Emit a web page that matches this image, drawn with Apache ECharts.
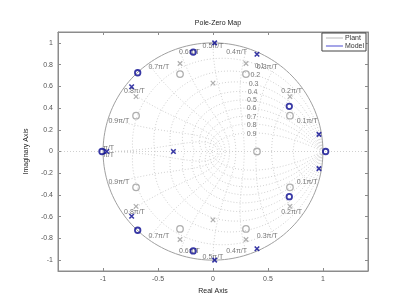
<!DOCTYPE html>
<html><head><meta charset="utf-8">
<script src="https://cdn.jsdelivr.net/npm/echarts@6/dist/echarts.min.js"></script>
<style>html,body{margin:0;padding:0;background:#fff}#c{width:407px;height:306px}</style>
</head><body><div id="c"></div>
<script>
// ---- data ----
const xTicks = [-1, -0.5, 0, 0.5, 1];
const yTicks = [-1, -0.8, -0.6, -0.4, -0.2, 0, 0.2, 0.4, 0.6, 0.8, 1];
const plantPolesRe = [-0.30, 0.30, 0.00, -0.70, 0.70, -0.30, 0.30, 0.00, -0.70, 0.70];
const plantPolesIm = [0.81, 0.81, 0.63, 0.505, 0.505, -0.81, -0.81, -0.63, -0.505, -0.505];
const plantZerosRe = [-0.30, 0.30, -0.70, 0.70, 0.40, -0.30, 0.30, -0.70, 0.70];
const plantZerosIm = [0.713, 0.713, 0.33, 0.33, 0.0, -0.713, -0.713, -0.33, -0.33];
const modelPolesRe = [0.015, 0.40, -0.74, 0.964, -0.36, -0.966, 0.015, 0.40, -0.74, 0.964];
const modelPolesIm = [1.0, 0.895, 0.596, 0.158, 0.0, 0.0, -1.0, -0.895, -0.596, -0.158];
const modelZerosRe = [-0.18, -0.685, 0.694, 1.025, -1.01, -0.18, -0.685, 0.694];
const modelZerosIm = [0.915, 0.725, 0.416, 0.0, 0.0, -0.915, -0.725, -0.416];
const zetas = [0.1, 0.2, 0.3, 0.4, 0.5, 0.6, 0.7, 0.8, 0.9];
const zetaLabelRe = [0.38, 0.34, 0.325, 0.315, 0.31, 0.307, 0.307, 0.307, 0.307];
const zetaLabelIm = [0.79, 0.707, 0.623, 0.55, 0.473, 0.397, 0.32, 0.244, 0.165];
const wnFracs = [0.1, 0.2, 0.3, 0.4, 0.5, 0.6, 0.7, 0.8, 0.9, 1.0];
const wnLabels = ['0.1π/T','0.2π/T','0.3π/T','0.4π/T','0.5π/T','0.6π/T','0.7π/T','0.8π/T','0.9π/T','π/T'];

const GRIDC = '#c4c4c4', AX = '#8c8c8c', TXT = '#555', BLUE = '#06068f', GRAY = '#9a9a9a';
const FONT = 'Liberation Sans';
const N = 120;
const series = [];
function dotted(data){ series.push({type:'line', data, showSymbol:false, symbol:'none', silent:true, animation:false,
  lineStyle:{color:GRIDC, width:0.8, type:[1,2]}, z:1}); }
// damping ratio curves
zetas.forEach(z => {
  const up = [], dn = [];
  for (let i = 0; i <= N; i++) {
    const th = Math.PI * i / N, r = Math.exp(-z * th / Math.sqrt(1 - z * z));
    up.push([r * Math.cos(th), r * Math.sin(th)]);
    dn.push([r * Math.cos(th), -r * Math.sin(th)]);
  }
  dotted(up); dotted(dn);
});
// natural frequency curves
wnFracs.forEach(f => {
  const wn = f * Math.PI, up = [], dn = [];
  for (let i = 0; i <= N; i++) {
    const z = i / N, re = Math.exp(-z * wn), ang = wn * Math.sqrt(1 - z * z);
    up.push([re * Math.cos(ang), re * Math.sin(ang)]);
    dn.push([re * Math.cos(ang), -re * Math.sin(ang)]);
  }
  dotted(up); dotted(dn);
});
// real axis dotted line
series.push({type:'line', data:[], silent:true, animation:false,
  markLine:{silent:true, symbol:'none', label:{show:false}, lineStyle:{color:GRIDC, width:0.8, type:[1,2]},
    data:[{yAxis:0}]}});
// unit circle
const circ = [];
for (let i = 0; i <= 360; i++) { const t = 2 * Math.PI * i / 360; circ.push([Math.cos(t), Math.sin(t)]); }
series.push({type:'line', data:circ, showSymbol:false, symbol:'none', silent:true, animation:false,
  lineStyle:{color:'#a0a0a0', width:1}, z:2});
// labels
const lab = [];
wnFracs.forEach((f, k) => {
  const t = f * Math.PI, x = Math.cos(t), y = Math.sin(t);
  const align = f < 0.5 ? 'right' : (f > 0.5 ? 'left' : 'center');
  lab.push({value:[x, y], name:wnLabels[k], label:{align, verticalAlign: f === 1 ? 'bottom' : 'top'}});
  lab.push({value:[x, -y], name:wnLabels[k], label:{align, verticalAlign: f === 1 ? 'top' : 'bottom'}});
});
zetas.forEach((z, k) => lab.push({value:[zetaLabelRe[k], zetaLabelIm[k]], name:String(z),
  label:{align:'left', verticalAlign:'middle'}}));
series.push({type:'scatter', data:lab, symbolSize:0, silent:true, animation:false, z:3,
  label:{show:true, position:'inside', formatter:p => p.name, fontFamily:FONT, fontSize:7, color:TXT}});
// markers
const XPATH = 'path://M0,0L10,10M10,0L0,10';
const pts = (re, im) => re.map((v, i) => [v, im[i]]);
series.push({type:'scatter', name:'pz', data:pts(plantZerosRe, plantZerosIm), symbol:'circle', symbolSize:6.5,
  itemStyle:{color:'rgba(0,0,0,0)', borderColor:GRAY, borderWidth:1.3}, z:4, animation:false, silent:true});
series.push({type:'scatter', name:'pp', data:pts(plantPolesRe, plantPolesIm), symbol:XPATH, symbolSize:4.5,
  itemStyle:{color:'rgba(0,0,0,0)', borderColor:GRAY, borderWidth:1.2}, z:4, animation:false, silent:true});
series.push({type:'scatter', name:'mz', data:pts(modelZerosRe, modelZerosIm), symbol:'circle', symbolSize:5.5,
  itemStyle:{color:'rgba(0,0,0,0)', borderColor:BLUE, borderWidth:1.8}, z:5, animation:false, silent:true});
series.push({type:'scatter', name:'mp', data:pts(modelPolesRe, modelPolesIm), symbol:XPATH, symbolSize:4.5,
  itemStyle:{color:'rgba(0,0,0,0)', borderColor:BLUE, borderWidth:1.6}, z:5, animation:false, silent:true});
// legend dummies
series.push({type:'line', name:'Plant', data:[], symbol:'none', showSymbol:false, lineStyle:{color:'#b8b8b8', width:1}, itemStyle:{color:'#b8b8b8'}});
series.push({type:'line', name:'Model', data:[], symbol:'none', showSymbol:false, lineStyle:{color:'#4a4ad0', width:1}, itemStyle:{color:'#4a4ad0'}});

const axCommon = (extra) => Object.assign({
  type:'value', splitLine:{show:false},
  axisLine:{show:true, onZero:false, lineStyle:{color:AX, width:1}},
  axisTick:{show:true, inside:true, length:3, lineStyle:{color:AX}},
  axisLabel:{fontFamily:FONT, fontSize:7, color:TXT, margin:5},
}, extra);

const option = {
  animation:false,
  backgroundColor:'#fff',
  title:{text:'Pole-Zero Map', left:213, top:15, textAlign:'center',
    textStyle:{fontFamily:FONT, fontSize:7, fontWeight:'normal', color:'#222'}},
  legend:{data:['Plant','Model'], icon:'rect',
    orient:'vertical', right:41, top:33, itemWidth:17, itemHeight:1, itemGap:0,
    padding:[1,2,1,4], borderColor:'#444', borderWidth:1, backgroundColor:'#fff',
    textStyle:{fontFamily:FONT, fontSize:7, color:'#333', lineHeight:8, padding:[0,0,0,-3]}, z:10},
  grid:{left:58, right:39, top:32, bottom:35, show:true, borderColor:AX, borderWidth:1},
  xAxis:[
    axCommon({min:-1.41, max:1.41, position:'bottom',
      axisTick:{show:true, inside:true, length:3, lineStyle:{color:AX}, customValues:xTicks},
      axisLabel:{fontFamily:FONT, fontSize:7, color:TXT, margin:5, customValues:xTicks},
      name:'Real Axis', nameLocation:'middle', nameGap:13,
      nameTextStyle:{fontFamily:FONT, fontSize:7, color:'#222'}}),
    axCommon({min:-1.41, max:1.41, position:'top',
      axisTick:{show:true, inside:true, length:3, lineStyle:{color:AX}, customValues:xTicks},
      axisLabel:{show:false}})
  ],
  yAxis:[
    axCommon({min:-1.1, max:1.1, position:'left',
      axisTick:{show:true, inside:true, length:3, lineStyle:{color:AX}, customValues:yTicks},
      axisLabel:{fontFamily:FONT, fontSize:7, color:TXT, margin:5, customValues:yTicks},
      name:'Imaginary Axis', nameLocation:'middle', nameGap:22,
      nameTextStyle:{fontFamily:FONT, fontSize:7, color:'#222'}}),
    axCommon({min:-1.1, max:1.1, position:'right',
      axisTick:{show:true, inside:true, length:3, lineStyle:{color:AX}, customValues:yTicks},
      axisLabel:{show:false}})
  ],
  series
};
const chart = echarts.init(document.getElementById('c'), null, {renderer:'canvas'});
chart.setOption(option);
</script></body></html>
